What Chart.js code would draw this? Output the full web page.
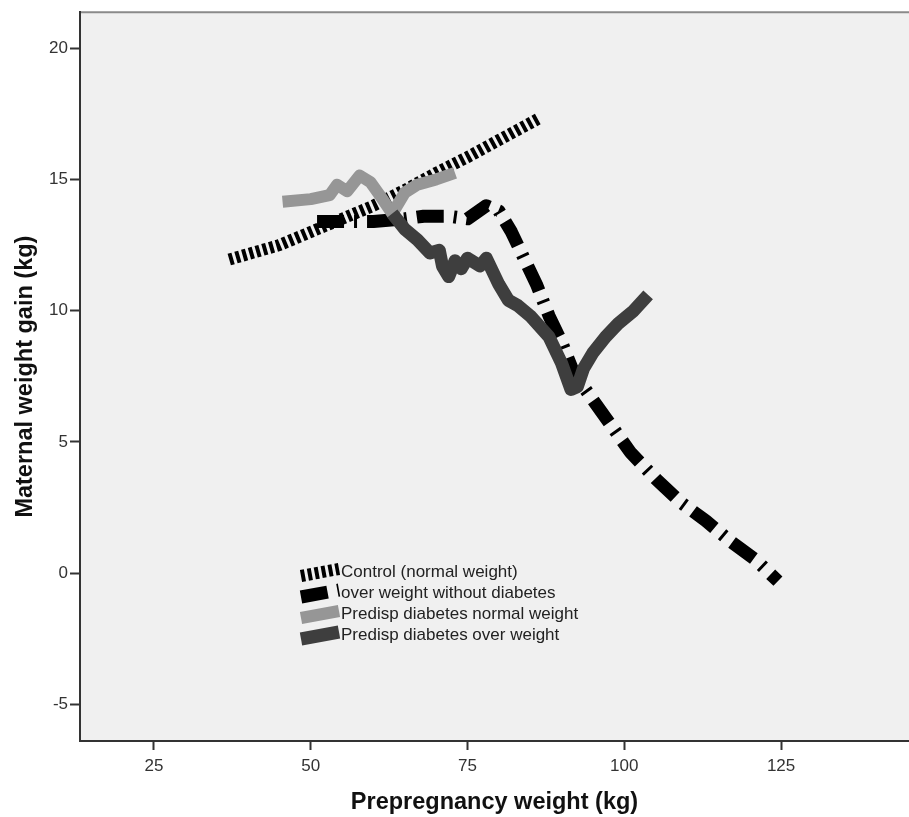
<!DOCTYPE html>
<html>
<head>
<meta charset="utf-8">
<script src="https://cdn.jsdelivr.net/npm/chart.js@4.4.0/dist/chart.umd.min.js"></script>
<style>
  html, body { margin: 0; padding: 0; background: #fff; }
  #wrap { width: 909px; height: 817px; position: relative; }
</style>
</head>
<body>
<div id="wrap"><canvas id="chart"></canvas></div>
<script>
const seriesLabels = [
  'Control (normal weight)',
  'over weight without diabetes',
  'Predisp diabetes normal weight',
  'Predisp diabetes over weight'
]

const controlX = [37, 45, 50, 55, 60, 65, 70, 75, 80, 86.2]
const controlY = [11.95, 12.5, 13.0, 13.5, 14.0, 14.6, 15.25, 15.85, 16.5, 17.3]

const overX = [51, 55, 60, 65, 68, 72, 75, 78, 80, 82, 84, 86, 88, 90, 92, 95, 98, 101, 105, 109, 113, 117, 121, 124.5]
const overY = [13.4, 13.4, 13.4, 13.5, 13.6, 13.6, 13.5, 14.0, 13.8, 13.0, 12.0, 11.0, 9.8, 8.8, 7.6, 6.6, 5.6, 4.6, 3.6, 2.7, 2.0, 1.2, 0.5, -0.3]

const predNormX = [45.5, 50, 53, 54.2, 55.8, 57.8, 59.5, 61, 63, 65, 67, 70, 73]
const predNormY = [14.15, 14.25, 14.4, 14.8, 14.55, 15.15, 14.9, 14.4, 13.7, 14.5, 14.8, 15.0, 15.25]

const predOverX = [63, 65, 67, 69, 70.5, 71, 72, 73, 74, 75, 77, 78, 80, 81.5, 83, 85, 88, 90, 91.5, 92.5, 93.5, 95, 97, 99, 101.5, 103.8]
const predOverY = [13.7, 13.1, 12.7, 12.2, 12.3, 11.7, 11.3, 11.9, 11.6, 12.0, 11.7, 12.0, 11.0, 10.4, 10.2, 9.8, 9.0, 8.0, 7.0, 7.1, 7.8, 8.4, 9.0, 9.5, 10.0, 10.6]

const xTickValues = [25, 50, 75, 100, 125]
const yTickValues = [-5, 0, 5, 10, 15, 20]

const FONT = '"Liberation Sans", Arial, sans-serif'

function toPoints(xs, ys) {
  return xs.map((x, i) => ({ x: x, y: ys[i] }))
}

const plotBackground = {
  id: 'plotBackground',
  beforeDraw(chart) {
    const { ctx, chartArea } = chart
    ctx.save()
    ctx.fillStyle = '#f0f0f0'
    ctx.fillRect(chartArea.left, chartArea.top, chartArea.right - chartArea.left, chartArea.bottom - chartArea.top)
    ctx.strokeStyle = '#8a8a8a'
    ctx.lineWidth = 2
    ctx.beginPath()
    ctx.moveTo(chartArea.left, chartArea.top)
    ctx.lineTo(chartArea.right, chartArea.top)
    ctx.stroke()
    ctx.restore()
  }
}

// legend sits inside the plot, like the SPSS one
const insideLegend = {
  id: 'insideLegend',
  afterDatasetsDraw(chart) {
    const { ctx } = chart
    const left = 301
    const textX = 341
    const rowY = [572, 593, 614, 635]
    ctx.save()
    chart.data.datasets.forEach((ds, i) => {
      const y = rowY[i]
      ctx.strokeStyle = ds.borderColor
      ctx.lineWidth = ds.borderWidth
      ctx.setLineDash(ds.borderDash || [])
      ctx.lineCap = 'butt'
      ctx.beginPath()
      ctx.moveTo(left, y + 4)
      ctx.lineTo(textX - 2, y - 3)
      ctx.stroke()
      ctx.setLineDash([])
      ctx.fillStyle = '#222'
      ctx.font = '17px ' + FONT
      ctx.textBaseline = 'middle'
      ctx.fillText(seriesLabels[i], textX, y)
    })
    ctx.restore()
  }
}

new Chart(document.getElementById('chart'), {
  type: 'line',
  data: {
    datasets: [
      {
        label: seriesLabels[0],
        data: toPoints(controlX, controlY),
        borderColor: '#000',
        borderWidth: 12,
        borderDash: [4, 3],
        order: 4
      },
      {
        label: seriesLabels[1],
        data: toPoints(overX, overY),
        borderColor: '#000',
        borderWidth: 13,
        borderDash: [27, 10, 3, 10],
        order: 3
      },
      {
        label: seriesLabels[2],
        data: toPoints(predNormX, predNormY),
        borderColor: 'rgb(150, 150, 150)',
        borderWidth: 12,
        order: 2
      },
      {
        label: seriesLabels[3],
        data: toPoints(predOverX, predOverY),
        borderColor: 'rgb(62, 62, 62)',
        borderWidth: 13,
        order: 1
      }
    ]
  },
  options: {
    responsive: true,
    maintainAspectRatio: false,
    animation: false,
    layout: { padding: { top: 11, right: 0, left: 0, bottom: 0 } },
    elements: {
      point: { radius: 0, hoverRadius: 0 },
      line: { tension: 0, fill: false, borderCapStyle: 'butt', borderJoinStyle: 'round' }
    },
    plugins: {
      legend: { display: false },
      tooltip: { enabled: false }
    },
    scales: {
      x: {
        type: 'linear',
        min: 13.2,
        max: 145.4,
        afterBuildTicks: s => { s.ticks = xTickValues.map(v => ({ value: v })) },
        afterFit: s => { s.height = 76 },
        grid: { drawOnChartArea: false, drawTicks: true, tickLength: 9, tickColor: '#333', tickWidth: 2 },
        border: { display: true, color: '#333', width: 2 },
        ticks: { font: { size: 17, family: FONT }, color: '#333', padding: 6, maxRotation: 0 },
        title: {
          display: true,
          text: 'Prepregnancy weight (kg)',
          font: { size: 23.5, weight: 'bold', family: FONT },
          color: '#111',
          padding: { top: 0, bottom: 0 }
        }
      },
      y: {
        type: 'linear',
        min: -6.39,
        max: 21.37,
        afterBuildTicks: s => { s.ticks = yTickValues.map(v => ({ value: v })) },
        afterFit: s => { s.width = 80 },
        grid: { drawOnChartArea: false, drawTicks: true, tickLength: 10, tickColor: '#333', tickWidth: 2 },
        border: { display: true, color: '#333', width: 2 },
        ticks: { font: { size: 17, family: FONT }, color: '#333', padding: 2 },
        title: {
          display: true,
          text: 'Maternal weight gain (kg)',
          font: { size: 23.5, weight: 'bold', family: FONT },
          color: '#111',
          padding: { top: 11, bottom: 0 }
        }
      }
    }
  },
  plugins: [plotBackground, insideLegend]
})
</script>
</body>
</html>
